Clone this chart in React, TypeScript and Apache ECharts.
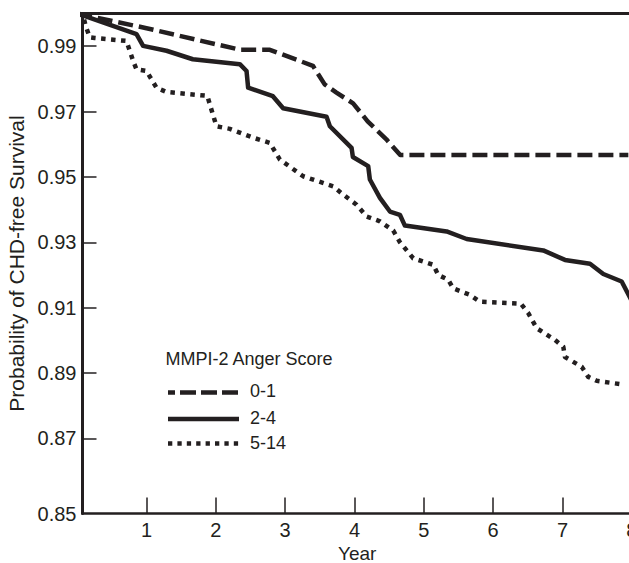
import React, { useEffect, useRef } from "react";
import * as echarts from "echarts";

const INK = "#231f20";
const FONT = "'Liberation Sans', Arial, Helvetica, sans-serif";

// Axis ticks / labels
const xTickValues = [1, 2, 3, 4, 5, 6, 7, 8];
const yTickValues = [0.847, 0.87, 0.89, 0.91, 0.93, 0.95, 0.97, 0.99];
const yTickLabels = ["0.85", "0.87", "0.89", "0.91", "0.93", "0.95", "0.97", "0.99"];

const xAxisName = "Year";
const yAxisName = "Probability of CHD-free Survival";
const legendTitle = "MMPI-2 Anger Score";
const seriesNames = ["0-1", "2-4", "5-14"];

// Anger score 0-1 (dashed)
const years01 = [0, 1.0, 2.35, 2.78, 3.21, 3.40, 3.57, 3.74, 3.98, 4.19, 4.46, 4.66, 7.95];
const surv01 = [1.0, 0.9955, 0.9889, 0.9889, 0.9855, 0.984, 0.9783, 0.9758, 0.9725, 0.967, 0.9615, 0.9567, 0.9567];

// Anger score 2-4 (solid)
const years24 = [0, 0.856, 0.951, 1.289, 1.668, 2.346, 2.443, 2.466, 2.823, 2.971, 3.597, 3.645, 3.958, 3.977, 4.198, 4.222, 4.367, 4.511, 4.655, 4.727, 5.329, 5.618, 6.723, 7.036, 7.397, 7.589, 7.854, 8.0];
const surv24 = [1.0, 0.9937, 0.9901, 0.9886, 0.986, 0.9845, 0.9824, 0.9773, 0.9747, 0.971, 0.9684, 0.9655, 0.9589, 0.9561, 0.9533, 0.9492, 0.9436, 0.9394, 0.9384, 0.9351, 0.9333, 0.931, 0.9275, 0.9246, 0.9234, 0.9203, 0.918, 0.912];

// Anger score 5-14 (dotted)
const years514 = [0, 0.09, 0.124, 0.182, 0.254, 0.711, 0.807, 0.856, 1.0, 1.144, 1.289, 1.877, 1.949, 2.01, 2.202, 2.538, 2.779, 2.924, 3.26, 3.693, 3.837, 4.03, 4.175, 4.367, 4.558, 4.656, 4.847, 5.136, 5.208, 5.352, 5.424, 5.665, 5.81, 6.4, 6.507, 6.628, 6.892, 7.012, 7.036, 7.277, 7.372, 7.494, 7.83];
const surv514 = [1.0, 0.999, 0.9961, 0.9927, 0.9925, 0.9916, 0.9855, 0.9829, 0.9824, 0.9773, 0.976, 0.9748, 0.9697, 0.9655, 0.9647, 0.962, 0.9604, 0.9553, 0.9502, 0.9471, 0.9446, 0.9415, 0.9379, 0.9364, 0.9336, 0.93, 0.9251, 0.9231, 0.92, 0.9185, 0.9159, 0.9139, 0.9118, 0.9112, 0.9083, 0.9037, 0.9001, 0.898, 0.8949, 0.8919, 0.8888, 0.8876, 0.8866];

const DASH = [15, 6];
const DOT = [4.5, 5.5];

function zip(xs: number[], ys: number[]) {
  return xs.map((x, i) => [x, ys[i]]);
}

export default function App() {
  const ref = useRef<HTMLDivElement>(null);

  useEffect(() => {
    const chart = echarts.init(ref.current!, null, { renderer: "svg" });
    const textBase = { color: INK, fontFamily: FONT };
    const mkSeries = (name: string, data: number[][], type: any) => ({
      name,
      type: "line",
      data,
      showSymbol: false,
      symbol: "none",
      xAxisIndex: 0,
      yAxisIndex: 0,
      lineStyle: { color: INK, width: 4.5, type, cap: "butt", join: "round" },
      itemStyle: { color: INK },
      emphasis: { disabled: true },
    });

    chart.setOption({
      animation: false,
      backgroundColor: "#ffffff",
      grid: {
        left: 82.5,
        right: 8.2,
        top: 13.5,
        bottom: 49.5,
        containLabel: false,
        outerBoundsMode: "none",
      },
      xAxis: [
        {
          type: "value",
          min: 0.077,
          max: 8,
          position: "bottom",
          name: xAxisName,
          nameLocation: "middle",
          nameGap: 27,
          nameTextStyle: { ...textBase, fontSize: 19, lineHeight: 19 },
          axisLine: { show: true, onZero: false, lineStyle: { color: INK, width: 2.7 } },
          axisTick: {
            show: true,
            inside: true,
            length: 16,
            customValues: xTickValues,
            lineStyle: { color: INK, width: 1.5 },
          },
          axisLabel: {
            customValues: xTickValues,
            margin: 6,
            fontSize: 20,
            ...textBase,
          },
          splitLine: { show: false },
        },
        {
          type: "value",
          min: 0.077,
          max: 8,
          position: "top",
          axisLine: { show: true, onZero: false, lineStyle: { color: INK, width: 3 } },
          axisTick: { show: false },
          axisLabel: { show: false },
          splitLine: { show: false },
        },
      ],
      yAxis: {
        type: "value",
        min: 0.847,
        max: 1.0,
        name: yAxisName,
        nameLocation: "middle",
        nameGap: 50,
        nameTextStyle: { ...textBase, fontSize: 21 },
        axisLine: { show: true, onZero: false, lineStyle: { color: INK, width: 3 } },
        axisTick: {
          show: true,
          inside: true,
          length: 14,
          customValues: yTickValues.slice(1),
          lineStyle: { color: INK, width: 1.5 },
        },
        axisLabel: {
          customValues: yTickValues,
          margin: 6,
          fontSize: 20,
          ...textBase,
          formatter: (v: number) => {
            const i = yTickValues.findIndex((t) => Math.abs(t - v) < 1e-6);
            return i >= 0 ? yTickLabels[i] : "";
          },
        },
        splitLine: { show: false },
      },
      series: [
        mkSeries(seriesNames[2], zip(years514, surv514), DOT),
        mkSeries(seriesNames[1], zip(years24, surv24), "solid"),
        mkSeries(seriesNames[0], zip(years01, surv01), DASH),
      ],
      graphic: [
        {
          type: "text",
          x: 165.5,
          y: 358.5,
          style: { text: legendTitle, fill: INK, fontSize: 18, fontFamily: FONT, verticalAlign: "middle", align: "left" },
        },
        {
          type: "line",
          shape: { x1: 168, y1: 392.5, x2: 239, y2: 392.5 },
          style: { stroke: INK, lineWidth: 4.5, lineDash: [16, 5], lineDashOffset: 9, lineCap: "butt" },
        },
        {
          type: "text",
          x: 250,
          y: 391,
          style: { text: seriesNames[0], fill: INK, fontSize: 18, fontFamily: FONT, verticalAlign: "middle", align: "left" },
        },
        {
          type: "line",
          shape: { x1: 168, y1: 419, x2: 239, y2: 419 },
          style: { stroke: INK, lineWidth: 4.5, lineCap: "butt" },
        },
        {
          type: "text",
          x: 250,
          y: 417.5,
          style: { text: seriesNames[1], fill: INK, fontSize: 18, fontFamily: FONT, verticalAlign: "middle", align: "left" },
        },
        {
          type: "line",
          shape: { x1: 168, y1: 443.5, x2: 239, y2: 443.5 },
          style: { stroke: INK, lineWidth: 4.5, lineDash: [4.3, 5.1], lineCap: "butt" },
        },
        {
          type: "text",
          x: 250,
          y: 442.5,
          style: { text: seriesNames[2], fill: INK, fontSize: 18, fontFamily: FONT, verticalAlign: "middle", align: "left" },
        },
      ],
    });

    return () => chart.dispose();
  }, []);

  return (
    <div
      style={{
        position: "fixed",
        left: 0,
        top: 0,
        width: 629,
        height: 563,
        overflow: "hidden",
        background: "#ffffff",
      }}
    >
      <div ref={ref} style={{ width: 640, height: 563 }} />
    </div>
  );
}
